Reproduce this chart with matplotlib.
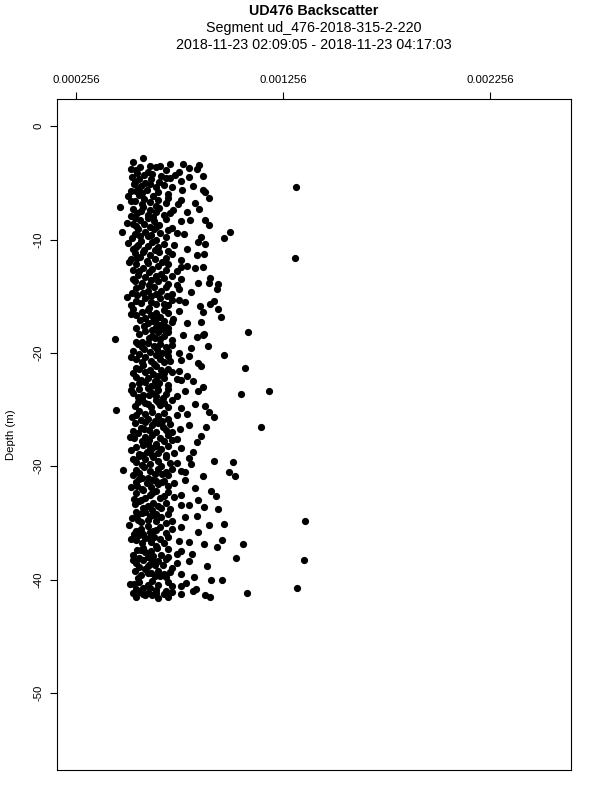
import matplotlib
matplotlib.use('Agg')
import matplotlib.pyplot as plt
import numpy as np

plt.rcParams['font.family'] = ['Liberation Sans', 'DejaVu Sans']

title_lines = ['UD476 Backscatter',
               'Segment ud_476-2018-315-2-220',
               '2018-11-23 02:09:05 - 2018-11-23 04:17:03']

# depth (m) and backscatter (x 1e-6), one line per 1 m band
depth = [
    -2.8, -3.2, -3.3, -3.3, -3.4, -3.5, -3.6, -3.6, -3.7, -3.8, -3.9, -3.9, -4.0, -4.0, -3.5, -3.8,
    -4.1, -4.2, -4.3, -4.3, -4.4, -4.5, -4.5, -4.6, -4.7, -4.7, -4.8, -4.9, -4.9, -5.0, -4.4, -4.6,
    -5.1, -5.1, -5.2, -5.3, -5.4, -5.4, -5.5, -5.6, -5.6, -5.7, -5.8, -5.8, -5.9, -6.0, -5.3, -5.7,
    -6.1, -6.2, -6.2, -6.3, -6.4, -6.5, -6.5, -6.6, -6.7, -6.8, -6.8, -6.9, -7.0, -6.3, -6.6, -6.9,
    -7.1, -7.1, -7.2, -7.3, -7.4, -7.4, -7.5, -7.6, -7.6, -7.7, -7.8, -7.8, -7.9, -8.0, -7.3, -7.7,
    -8.1, -8.1, -8.2, -8.3, -8.4, -8.4, -8.5, -8.6, -8.7, -8.7, -8.8, -8.9, -9.0, -8.3, -8.6, -8.9,
    -9.1, -9.1, -9.2, -9.3, -9.3, -9.4, -9.5, -9.5, -9.6, -9.7, -9.8, -9.8, -9.9, -10.0, -9.4, -9.7,
    -10.1, -10.2, -10.2, -10.3, -10.4, -10.5, -10.5, -10.6, -10.7, -10.8, -10.8, -10.9, -11.0, -10.4, -10.7, -10.9,
    -11.1, -11.1, -11.2, -11.3, -11.4, -11.4, -11.5, -11.6, -11.7, -11.7, -11.8, -11.9, -12.0, -11.3, -11.6, -12.0,
    -12.1, -12.2, -12.2, -12.3, -12.4, -12.5, -12.5, -12.6, -12.7, -12.8, -12.8, -12.9, -13.0, -12.4, -12.7, -12.3,
    -13.1, -13.2, -13.2, -13.3, -13.4, -13.5, -13.5, -13.6, -13.7, -13.8, -13.8, -13.9, -14.0, -13.4, -13.7, -14.0,
    -14.1, -14.2, -14.2, -14.3, -14.4, -14.5, -14.5, -14.6, -14.7, -14.8, -14.8, -14.9, -15.0, -14.4, -14.7, -15.0,
    -15.1, -15.2, -15.2, -15.3, -15.4, -15.5, -15.5, -15.6, -15.7, -15.8, -15.8, -15.9, -16.0, -15.4, -15.7, -15.3,
    -16.1, -16.2, -16.2, -16.3, -16.4, -16.5, -16.5, -16.6, -16.7, -16.8, -16.8, -16.9, -17.0, -16.4, -16.7, -17.0,
    -17.1, -17.2, -17.2, -17.3, -17.4, -17.5, -17.5, -17.6, -17.7, -17.8, -17.8, -17.9, -18.0, -17.4, -17.7, -17.3,
    -18.1, -18.2, -18.2, -18.3, -18.4, -18.5, -18.5, -18.6, -18.7, -18.8, -18.8, -18.9, -19.0, -18.4, -18.7, -19.0,
    -19.1, -19.2, -19.2, -19.3, -19.4, -19.5, -19.5, -19.6, -19.7, -19.8, -19.8, -19.9, -20.0, -19.4, -19.7, -20.0,
    -20.1, -20.2, -20.2, -20.3, -20.4, -20.5, -20.5, -20.6, -20.7, -20.8, -20.8, -20.9, -21.0, -20.4, -20.7, -20.3,
    -21.1, -21.2, -21.2, -21.3, -21.4, -21.5, -21.5, -21.6, -21.7, -21.8, -21.8, -21.9, -22.0, -21.4, -21.7, -22.0,
    -22.1, -22.2, -22.2, -22.3, -22.4, -22.5, -22.5, -22.6, -22.7, -22.8, -22.8, -22.9, -23.0, -22.4, -22.7, -23.0,
    -23.1, -23.2, -23.2, -23.3, -23.4, -23.5, -23.5, -23.6, -23.7, -23.8, -23.8, -23.9, -24.0, -23.4, -23.7, -23.3,
    -24.1, -24.2, -24.2, -24.3, -24.4, -24.5, -24.5, -24.6, -24.7, -24.8, -24.8, -24.9, -25.0, -24.4, -24.7, -24.3,
    -25.1, -25.2, -25.2, -25.3, -25.4, -25.5, -25.5, -25.6, -25.7, -25.8, -25.8, -25.9, -26.0, -25.4, -25.7, -26.0,
    -26.1, -26.2, -26.2, -26.3, -26.4, -26.5, -26.5, -26.6, -26.7, -26.8, -26.8, -26.9, -27.0, -26.4, -26.7, -27.0,
    -27.1, -27.2, -27.2, -27.3, -27.4, -27.5, -27.5, -27.6, -27.7, -27.8, -27.8, -27.9, -28.0, -27.4, -27.7, -28.0,
    -28.1, -28.2, -28.2, -28.3, -28.4, -28.5, -28.5, -28.6, -28.7, -28.8, -28.8, -28.9, -29.0, -28.4, -28.7, -29.0,
    -29.1, -29.2, -29.2, -29.3, -29.4, -29.5, -29.5, -29.6, -29.7, -29.8, -29.8, -29.9, -30.0, -29.4, -29.7, -29.0,
    -30.1, -30.2, -30.2, -30.3, -30.4, -30.5, -30.5, -30.6, -30.7, -30.8, -30.8, -30.9, -31.0, -30.4, -30.7, -31.0,
    -31.1, -31.2, -31.2, -31.3, -31.4, -31.5, -31.5, -31.6, -31.7, -31.8, -31.8, -31.9, -32.0, -31.4, -31.7, -31.3,
    -32.1, -32.2, -32.2, -32.3, -32.4, -32.5, -32.5, -32.6, -32.7, -32.8, -32.8, -32.9, -33.0, -32.4, -32.6, -33.0,
    -33.1, -33.2, -33.2, -33.3, -33.4, -33.5, -33.5, -33.6, -33.7, -33.8, -33.8, -33.9, -34.0, -33.4, -33.7, -34.0,
    -34.1, -34.2, -34.2, -34.3, -34.4, -34.5, -34.5, -34.6, -34.7, -34.8, -34.8, -34.9, -35.0, -34.4, -34.7, -34.3,
    -35.1, -35.2, -35.2, -35.3, -35.4, -35.5, -35.5, -35.6, -35.7, -35.8, -35.8, -35.9, -36.0, -35.4, -35.7, -36.0,
    -36.1, -36.2, -36.2, -36.3, -36.4, -36.5, -36.5, -36.6, -36.7, -36.8, -36.8, -36.9, -37.0, -36.4, -36.7, -36.3,
    -37.1, -37.2, -37.2, -37.3, -37.4, -37.5, -37.5, -37.6, -37.7, -37.8, -37.8, -37.9, -38.0, -37.4, -37.7, -38.0,
    -38.1, -38.2, -38.2, -38.3, -38.4, -38.5, -38.5, -38.6, -38.7, -38.8, -38.8, -38.9, -39.0, -38.4, -38.7, -38.3,
    -39.1, -39.2, -39.2, -39.3, -39.4, -39.5, -39.5, -39.6, -39.7, -39.8, -39.8, -39.9, -40.0, -39.4, -39.7, -40.0,
    -40.1, -40.2, -40.2, -40.3, -40.4, -40.5, -40.5, -40.6, -40.7, -40.8, -40.8, -40.9, -41.0, -40.4, -40.7, -40.6,
    -41.1, -41.2, -41.2, -41.3, -41.3, -41.4, -41.4, -41.5, -41.5, -41.6, -41.1, -41.2, -41.3, -41.4, -41.5, -41.0,
]
backscatter = [
    578, 530, 708, 770, 848, 612, 564, 641, 800, 838, 545, 690, 600, 752, 660, 520,
    550, 620, 585, 735, 665, 525, 800, 690, 560, 615, 760, 540, 655, 590, 870, 710,
    535, 610, 680, 570, 640, 720, 555, 595, 765, 520, 650, 880, 575, 700, 820, 545,
    560, 625, 505, 700, 585, 650, 760, 540, 610, 690, 830, 575, 640, 895, 520, 745,
    468, 580, 655, 530, 610, 725, 570, 640, 790, 550, 600, 680, 520, 625, 850, 710,
    540, 600, 690, 565, 630, 760, 500, 585, 655, 895, 545, 610, 720, 805, 530, 640,
    555, 630, 700, 478, 590, 660, 540, 775, 615, 565, 690, 860, 525, 640, 740, 600,
    570, 620, 845, 505, 680, 555, 730, 600, 650, 530, 790, 585, 700, 880, 545, 635,
    580, 655, 540, 720, 610, 840, 565, 690, 520, 635, 760, 595, 511, 875, 550, 670,
    600, 700, 545, 650, 760, 580, 830, 620, 690, 560, 740, 605, 665, 870, 530, 790,
    555, 640, 720, 590, 680, 760, 530, 615, 650, 845, 575, 700, 605, 900, 540, 740,
    570, 630, 690, 545, 750, 600, 665, 810, 580, 640, 720, 550, 615, 935, 525, 695,
    500, 590, 660, 720, 545, 615, 780, 570, 640, 700, 520, 855, 605, 920, 680, 750,
    530, 600, 680, 750, 575, 640, 700, 520, 615, 660, 953, 590, 725, 870, 545, 640,
    565, 625, 680, 720, 600, 650, 660, 585, 640, 700, 545, 675, 620, 790, 690, 860,
    590, 650, 700, 560, 770, 620, 680, 840, 605, 443, 660, 720, 575, 870, 635, 545,
    600, 660, 555, 720, 630, 690, 575, 810, 645, 530, 700, 610, 670, 890, 585, 750,
    560, 972, 640, 700, 590, 660, 545, 760, 615, 680, 575, 845, 630, 520, 710, 800,
    580, 640, 860, 545, 700, 610, 665, 750, 590, 530, 680, 625, 790, 560, 720, 650,
    545, 600, 680, 740, 570, 635, 820, 590, 655, 700, 525, 615, 870, 760, 560, 645,
    600, 560, 700, 650, 780, 530, 620, 690, 580, 740, 640, 555, 675, 845, 605, 520,
    575, 640, 720, 555, 680, 600, 830, 660, 540, 700, 615, 760, 448, 590, 880, 650,
    560, 896, 620, 680, 590, 740, 545, 650, 920, 600, 700, 570, 635, 790, 525, 670,
    590, 650, 540, 710, 620, 881, 675, 570, 755, 605, 690, 530, 640, 800, 585, 720,
    555, 620, 700, 860, 590, 660, 535, 740, 605, 680, 575, 840, 640, 515, 720, 600,
    580, 640, 700, 545, 760, 610, 665, 520, 595, 730, 650, 560, 690, 620, 820, 575,
    560, 625, 690, 800, 590, 920, 650, 545, 710, 610, 810, 575, 665, 530, 740, 620,
    585, 650, 720, 545, 610, 690, 780, 560, 635, 700, 530, 867, 600, 760, 670, 575,
    560, 780, 620, 680, 545, 730, 595, 650, 700, 520, 615, 830, 575, 670, 550, 640,
    580, 905, 640, 700, 545, 610, 760, 929, 727, 590, 660, 535, 843, 620, 680, 570,
    560, 625, 690, 540, 760, 600, 650, 872, 580, 939, 710, 620, 545, 800, 665, 590,
    575, 640, 700, 550, 610, 780, 665, 525, 600, 720, 640, 570, 690, 840, 555, 625,
    972, 896, 511, 600, 660, 720, 570, 640, 545, 843, 610, 690, 580, 760, 625, 535,
    560, 630, 700, 590, 660, 958, 545, 750, 615, 680, 575, 872, 640, 520, 800, 605,
    934, 580, 645, 700, 550, 615, 760, 590, 814, 665, 530, 625, 700, 570, 740, 600,
    560, 620, 690, 580, 650, 740, 545, 610, 675, 886, 600, 560, 720, 800, 635, 530,
    590, 650, 540, 710, 615, 680, 760, 570, 635, 690, 825, 555, 905, 600, 660, 958,
    620, 560, 700, 785, 535, 600, 650, 720, 580, 833, 545, 640, 690, 515, 610, 760,
    560, 600, 640, 580, 680, 620, 876, 545, 900, 650, 720, 530, 760, 590, 700, 820,
]

# points away from the main cloud
outlier_depth = [-5.4, -11.6, -9.3, -9.9, -18.2, -21.3, -23.4, -23.6, -26.5, -29.6,
                 -30.5, -30.9, -34.8, -36.9, -38.1, -38.3, -40.7, -41.2, -30.3, -5.6,
                 -8.3, -13.8, -13.9, -15.7, -16.1, -18.3]
outlier_backscatter = [1319, 1314, 1001, 968, 1088, 1069, 1189, 1050, 1151, 1011,
                       992, 1021, 1362, 1064, 1030, 1357, 1324, 1083, 482, 867,
                       876, 896, 939, 900, 939, 872]

x_ticks = [0.000256, 0.001256, 0.002256]
x_tick_labels = ['0.000256', '0.001256', '0.002256']
y_ticks = [0, -10, -20, -30, -40, -50]

x = np.array(backscatter + outlier_backscatter) * 1e-6
y = np.array(depth + outlier_depth)

fig = plt.figure(figsize=(6, 8), dpi=100)
ax = fig.add_axes([57 / 600, 1 - 770 / 800, 514 / 600, 671 / 800])

ax.plot(x, y, 'o', color='black', ms=5.2, mew=0)

ax.set_xlim(162e-6, 2648e-6)
ax.set_ylim(-56.8, 2.4)

ax.xaxis.tick_top()
ax.set_xticks(x_ticks)
ax.set_xticklabels(x_tick_labels)
ax.set_yticks(y_ticks)
ax.set_yticklabels([str(v) for v in y_ticks], rotation=90, va='center')
ax.tick_params(direction='out', length=5, width=0.8, labelsize=8.2, pad=5, colors='black')
ax.set_ylabel('Depth (m)', fontsize=8.2, labelpad=12)
for s in ax.spines.values():
    s.set_linewidth(0.8)

fig.text(314 / 600, 1 - 11 / 800, title_lines[0], ha='center', va='center', fontsize=10.3, fontweight='bold')
fig.text(314 / 600, 1 - 28 / 800, title_lines[1], ha='center', va='center', fontsize=10.3)
fig.text(314 / 600, 1 - 45 / 800, title_lines[2], ha='center', va='center', fontsize=10.3)

plt.savefig('out.png', dpi=100)
